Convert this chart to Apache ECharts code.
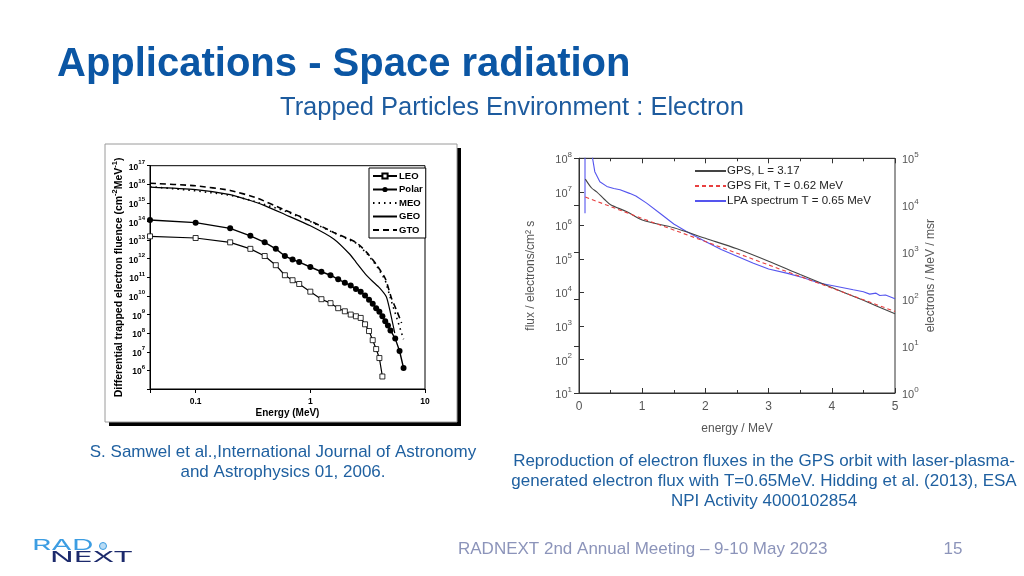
<!DOCTYPE html>
<html>
<head>
<meta charset="utf-8">
<script src="https://cdn.jsdelivr.net/npm/echarts@6/dist/echarts.min.js"></script>
<style>
html,body{margin:0;padding:0;background:#fff;}
#c{width:1024px;height:576px;}
</style>
</head>
<body>
<div id="c"></div>
<script>
// ---------- Left chart (Samwel et al.) ----------
const leoE   = [0.04,0.1,0.2,0.3,0.4,0.5,0.6,0.7,0.8,1.0,1.25,1.5,1.75,2.0,2.25,2.5,2.75,3.0,3.25,3.5,3.75,4.0,4.25];
const leoF   = [1.6e13,1.3e13,7.6e12,3.4e12,1.4e12,4.5e11,1.3e11,7e10,4.4e10,1.7e10,6.7e9,4.1e9,2.2e9,1.5e9,1e9,8.1e8,6.6e8,3e8,1.3e8,4.2e7,1.4e7,4.6e6,4.7e5];
const polarE = [0.04,0.1,0.2,0.3,0.4,0.5,0.6,0.7,0.8,1.0,1.25,1.5,1.75,2.0,2.25,2.5,2.75,3.0,3.25,3.5,3.75,4.0,4.25,4.5,4.75,5.0,5.5,6.0,6.5];
const polarF = [1.2e14,8.7e13,4.3e13,1.7e13,7.6e12,3.4e12,1.4e12,9.1e11,6.6e11,3.6e11,2e11,1.3e11,7.8e10,5.2e10,3.6e10,2.4e10,1.7e10,1.05e10,6.2e9,3.8e9,2.2e9,1.4e9,8.1e8,4.4e8,2.6e8,1.4e8,5.1e7,1.1e7,1.35e6];
const meoE   = [0.04,0.1,0.2,0.3,0.45,0.6,1.0,1.6,2.5,3.1,3.8,4.5,5.1,5.7,6.5];
const meoF   = [7.5e15,4.5e15,2.6e15,1.4e15,6.5e14,3.7e14,1.0e14,2.5e13,7e12,2e12,4e11,7e10,5e9,6e8,4.7e7];
const geoE   = [0.04,0.1,0.2,0.3,0.4,0.6,1.0,1.6,2.2,2.5,3.0,3.5,4.0,4.6,5.0,5.45];
const geoF   = [7e15,5.2e15,2.8e15,1.35e15,7.2e14,2.4e14,5.9e13,1.15e13,1.8e12,6.6e11,1.6e11,6e10,2.8e10,9e9,1.2e9,1.0e8];
const gtoE   = [0.04,0.1,0.2,0.34,0.58,1.0,1.6,2.5,3.1,3.8,4.5,5.1,5.7,6.25];
const gtoF   = [1.15e16,8.3e15,4.7e15,1.86e15,4.5e14,1.07e14,2.6e13,7.6e12,2.2e12,4.5e11,8.7e10,7.6e9,1.5e9,3.5e8];
const leftNames = ['LEO','Polar','MEO','GEO','GTO'];
const leftXTicks = [0.1, 1, 10];
const leftYExp = [6,7,8,9,10,11,12,13,14,15,16,17];

// ---------- Right chart (Hidding et al.) ----------
const gpsE = [0.1,0.2,0.28,0.4,0.5,0.75,1.0,1.5,2.0,2.5,3.0,3.5,4.0,4.5,5.0];
const gpsF = [2.4e7,1.3e7,1e7,6e6,4.1e6,2.6e6,1.45e6,8.5e5,4.1e5,2.0e5,8.5e4,3.4e4,1.4e4,5.8e3,2.3e3];
const fitE = [0.1,1,2,3,4,5];
const fitF = [7e6,1.6e6,3.3e5,6.6e4,1.35e4,2.7e3];
const lpaE = [0.095,0.095,0.2,0.215,0.25,0.33,0.44,0.55,0.65,0.8,0.9,1.07,1.28,1.5,1.7,2.0,2.25,2.5,2.76,3.0,3.3,3.55,3.8,4.08,4.34,4.5,4.6,4.7,4.76,4.85,5.0];
const lpaF = [2.3e6,3e8,3e8,1e8,4e7,2e7,1.45e7,1.25e7,1.15e7,9e6,7.5e6,4.6e6,2.3e6,1.1e6,6.6e5,3.3e5,1.9e5,1.2e5,7.4e4,5.0e4,3.7e4,2.75e4,1.9e4,1.5e4,1.2e4,1.05e4,8.9e3,9.5e3,8.1e3,8.4e3,6.5e3];
const rightNames = ['GPS, L = 3.17','GPS Fit, T = 0.62 MeV','LPA spectrum T = 0.65 MeV'];

const pair = (xs, ys, f) => xs.map((x, i) => [x, f ? f(ys[i]) : ys[i]]);
const lg = v => Math.log10(v);
const isPow10 = v => Math.abs(Math.log10(v) - Math.round(Math.log10(v))) < 1e-6;
const noSym = {color: 'rgba(0,0,0,0)', borderColor: 'rgba(0,0,0,0)', borderWidth: 0};

const chart = echarts.init(document.getElementById('c'), null, {renderer: 'canvas'});

const supRich = (fs, bold) => ({
  b: {fontSize: fs, fontWeight: bold ? 'bold' : 'normal', lineHeight: fs + 4, verticalAlign: 'bottom'},
  s: {fontSize: Math.round(fs * 0.7), fontWeight: bold ? 'bold' : 'normal', lineHeight: fs - 2, verticalAlign: 'top'}
});
const FONT = '"Liberation Sans", Arial, sans-serif';

const option = {
  animation: false,
  backgroundColor: '#fff',
  textStyle: {fontFamily: 'Liberation Sans, Arial, sans-serif'},
  grid: [
    {left: 150, top: 165.7, width: 275, height: 223.3, show: true, borderColor: '#000', borderWidth: 1, backgroundColor: 'transparent'},
    {left: 579, top: 158.3, width: 316, height: 234.7, show: true, borderColor: '#333', borderWidth: 1, backgroundColor: 'transparent'}
  ],
  legend: [
    {
      data: [
        {name: 'LEO'}, {name: 'Polar'},
        {name: 'MEO', itemStyle: noSym}, {name: 'GEO', itemStyle: noSym}, {name: 'GTO', itemStyle: noSym}
      ],
      orient: 'vertical', left: 369, top: 168,
      backgroundColor: '#fff', borderColor: '#000', borderWidth: 1,
      padding: [3, 3, 3, 3], itemWidth: 24, itemHeight: 6.5, itemGap: 3.5,
      textStyle: {fontSize: 9.5, fontWeight: 'bold', color: '#000', lineHeight: 9, padding: [0,0,0,-3]}
    },
    {
      data: rightNames.map(n => ({name: n, itemStyle: noSym})),
      orient: 'vertical', left: 694, top: 165,
      padding: 0, itemWidth: 31, itemHeight: 10, itemGap: 3,
      textStyle: {fontSize: 11.5, color: '#222', lineHeight: 10, padding: [0,0,0,-4]}
    }
  ],
  xAxis: [
    {
      type: 'log', gridIndex: 0, min: 0.04, max: 10, logBase: 10,
      name: 'Energy (MeV)', nameLocation: 'middle', nameGap: 19,
      nameTextStyle: {fontSize: 10, fontWeight: 'bold', color: '#000'},
      axisLine: {lineStyle: {color: '#000', width: 1}},
      axisTick: {show: true, inside: false, length: 4, lineStyle: {color: '#000'}},
      axisLabel: {fontSize: 8.5, fontWeight: 'bold', color: '#000', margin: 8,
        formatter: v => (leftXTicks.some(t => Math.abs(t - v) < 1e-9) ? String(v) : '')},
      splitLine: {show: false}
    },
    {
      type: 'value', gridIndex: 1, min: 0, max: 5, interval: 1,
      name: 'energy / MeV', nameLocation: 'middle', nameGap: 30,
      nameTextStyle: {fontSize: 12, color: '#555'},
      axisLine: {lineStyle: {color: '#333'}},
      axisTick: {inside: true, length: 5, lineStyle: {color: '#333'}},
      minorTick: {show: true, splitNumber: 2, length: 3, lineStyle: {color: '#333'}},
      axisLabel: {fontSize: 12, color: '#555', margin: 8},
      splitLine: {show: false}
    },
    {
      type: 'value', gridIndex: 1, min: 0, max: 5, interval: 1, position: 'top',
      axisLine: {lineStyle: {color: '#333'}},
      axisTick: {inside: true, length: 5, lineStyle: {color: '#333'}},
      minorTick: {show: true, splitNumber: 2, length: 3, lineStyle: {color: '#333'}},
      axisLabel: {show: false},
      splitLine: {show: false}
    }
  ],
  yAxis: [
    {
      type: 'value', gridIndex: 0, min: 5, max: 17, interval: 1,
      name: '{n|Differential trapped electron fluence (cm}{s|-2}{n|MeV}{s|-1}{n|)}',
      nameLocation: 'middle', nameGap: 25,
      nameTextStyle: {color: '#000', rich: {
        n: {fontSize: 10.5, fontWeight: 'bold', lineHeight: 14, verticalAlign: 'bottom'},
        s: {fontSize: 7.5, fontWeight: 'bold', lineHeight: 9, verticalAlign: 'top'}}},
      axisLine: {lineStyle: {color: '#000', width: 1}},
      axisTick: {show: true, inside: false, length: 3, lineStyle: {color: '#000'}},
      axisLabel: {color: '#000', margin: 5, rich: supRich(8.5, true),
        formatter: v => (leftYExp.indexOf(v) >= 0 ? '{b|10}{s|' + v + '}' : '')},
      splitLine: {show: false}
    },
    {
      type: 'log', gridIndex: 1, min: 10, max: 1e8, logBase: 10,
      name: 'flux / electrons/cm² s', nameLocation: 'middle', nameGap: 42,
      nameTextStyle: {fontSize: 12, color: '#555'},
      axisLine: {lineStyle: {color: '#333'}},
      axisTick: {inside: true, length: 5, lineStyle: {color: '#333'}},
      axisLabel: {color: '#555', margin: 7, rich: supRich(11, false),
        formatter: v => (isPow10(v) ? '{b|10}{s|' + Math.round(Math.log10(v)) + '}' : '')},
      splitLine: {show: false}
    },
    {
      type: 'log', gridIndex: 1, min: 1, max: 1e5, logBase: 10, position: 'right',
      name: 'electrons / MeV / msr', nameLocation: 'middle', nameGap: 30, nameRotate: 90,
      nameTextStyle: {fontSize: 12, color: '#555'},
      axisLine: {show: true, lineStyle: {color: '#333'}},
      axisTick: {show: true, inside: true, length: 5, lineStyle: {color: '#333'}},
      axisLabel: {color: '#555', margin: 7, rich: supRich(11, false),
        formatter: v => (isPow10(v) ? '{b|10}{s|' + Math.round(Math.log10(v)) + '}' : '')},
      splitLine: {show: false}
    }
  ],
  series: [
    {name: 'LEO', type: 'line', xAxisIndex: 0, yAxisIndex: 0, data: pair(leoE, leoF, lg),
     symbol: 'rect', symbolSize: 5, showSymbol: true,
     itemStyle: {color: '#fff', borderColor: '#000', borderWidth: 0.8},
     lineStyle: {color: '#000', width: 1.2}, z: 5},
    {name: 'Polar', type: 'line', xAxisIndex: 0, yAxisIndex: 0, data: pair(polarE, polarF, lg),
     symbol: 'circle', symbolSize: 6, showSymbol: true,
     itemStyle: {color: '#000', borderColor: '#000', borderWidth: 0},
     lineStyle: {color: '#000', width: 1.4}, z: 5},
    {name: 'MEO', type: 'line', xAxisIndex: 0, yAxisIndex: 0, data: pair(meoE, meoF, lg),
     symbol: 'none', itemStyle: {color: '#000'},
     lineStyle: {color: '#000', width: 1.6, type: [1.5, 4]}},
    {name: 'GEO', type: 'line', xAxisIndex: 0, yAxisIndex: 0, data: pair(geoE, geoF, lg),
     symbol: 'none', itemStyle: {color: '#000'}, smooth: 0.2,
     lineStyle: {color: '#000', width: 1.2}},
    {name: 'GTO', type: 'line', xAxisIndex: 0, yAxisIndex: 0, data: pair(gtoE, gtoF, lg),
     symbol: 'none', itemStyle: {color: '#000'}, smooth: 0.2,
     lineStyle: {color: '#000', width: 1.6, type: [6, 4]}},

    {name: rightNames[0], type: 'line', xAxisIndex: 1, yAxisIndex: 1, data: pair(gpsE, gpsF),
     symbol: 'none', itemStyle: {color: '#333'}, smooth: 0.3,
     lineStyle: {color: '#444', width: 1.1}},
    {name: rightNames[1], type: 'line', xAxisIndex: 1, yAxisIndex: 1, data: pair(fitE, fitF),
     symbol: 'none', itemStyle: {color: '#e33'},
     lineStyle: {color: '#e84040', width: 1.1, type: [4, 3]}, z: 3},
    {name: rightNames[2], type: 'line', xAxisIndex: 1, yAxisIndex: 1, data: pair(lpaE, lpaF),
     symbol: 'none', itemStyle: {color: '#2a2ad8'},
     lineStyle: {color: '#5555ee', width: 1.1}, z: 2}
  ],
  graphic: [
    // image frame of the left figure (drawn behind the chart)
    {type: 'rect', z: -10, shape: {x: 109, y: 148, width: 352, height: 278}, style: {fill: '#000'}, silent: true},
    {type: 'rect', z: -9, shape: {x: 105, y: 144, width: 352, height: 278}, style: {fill: '#fff', stroke: '#9a9a9a', lineWidth: 1}, silent: true},
    // slide texts
    {type: 'text', left: 57, top: 45, style: {text: 'Applications - Space radiation', font: 'bold 40px ' + FONT, fill: '#0b56a4'}},
    {type: 'text', left: 280, top: 95, style: {text: 'Trapped Particles Environment : Electron', font: '25.5px ' + FONT, fill: '#1d5b9e'}},
    {type: 'text', z: 10, style: {x: 283, y: 452, text: 'S. Samwel et al.,International Journal of Astronomy', font: '17px ' + FONT, fill: '#1f60a0', textAlign: 'center', textVerticalAlign: 'middle'}},
    {type: 'text', z: 10, style: {x: 283, y: 472, text: 'and Astrophysics 01, 2006.', font: '17px ' + FONT, fill: '#1f60a0', textAlign: 'center', textVerticalAlign: 'middle'}},
    {type: 'text', z: 10, style: {x: 764, y: 461, text: 'Reproduction of electron fluxes in the GPS orbit with laser-plasma-', font: '17px ' + FONT, fill: '#1f60a0', textAlign: 'center', textVerticalAlign: 'middle'}},
    {type: 'text', z: 10, style: {x: 764, y: 481, text: 'generated electron flux with T=0.65MeV. Hidding et al. (2013), ESA', font: '17px ' + FONT, fill: '#1f60a0', textAlign: 'center', textVerticalAlign: 'middle'}},
    {type: 'text', z: 10, style: {x: 764, y: 501, text: 'NPI Activity 4000102854', font: '17px ' + FONT, fill: '#1f60a0', textAlign: 'center', textVerticalAlign: 'middle'}},
    {type: 'text', z: 10, style: {x: 458, y: 549, text: 'RADNEXT 2nd Annual Meeting \u2013 9-10 May 2023', font: '17px ' + FONT, fill: '#8c94ba', textAlign: 'left', textVerticalAlign: 'middle'}},
    {type: 'text', z: 10, style: {x: 953, y: 549, text: '15', font: '17px ' + FONT, fill: '#8c94ba', textAlign: 'center', textVerticalAlign: 'middle'}},
    // logo
    {type: 'text', z: 10, x: 32, y: 545, scaleX: 2.0, scaleY: 1, style: {x: 0, y: 0, text: 'RAD', font: '15px Inter, "DejaVu Sans", sans-serif', fill: '#3c9de2', textAlign: 'left', textVerticalAlign: 'middle'}},
    {type: 'text', z: 10, x: 50, y: 557, scaleX: 2.1, scaleY: 1, style: {x: 0, y: 0, text: 'NEXT', font: '15px Inter, "DejaVu Sans", sans-serif', fill: '#1c2a6c', textAlign: 'left', textVerticalAlign: 'middle'}},
    {type: 'circle', z: 10, shape: {cx: 103, cy: 546, r: 3.5}, style: {fill: '#b9dcf5', stroke: '#3c9de2', lineWidth: 1}}
  ]
};
chart.setOption(option);
</script>
</body>
</html>
